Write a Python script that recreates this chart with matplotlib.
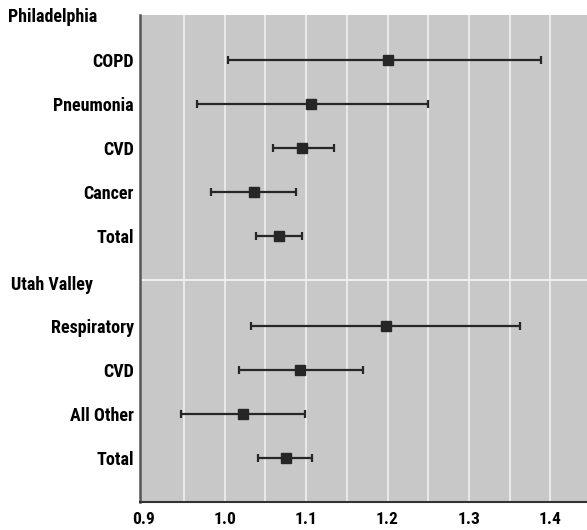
import numpy as np
import matplotlib.pyplot as plt

# Relative risk estimates with 95% confidence limits
phila_labels = ["COPD", "Pneumonia", "CVD", "Cancer", "Total"]
phila_rr = [1.20, 1.106, 1.095, 1.036, 1.067]
phila_lo = [1.004, 0.966, 1.059, 0.983, 1.039]
phila_hi = [1.389, 1.250, 1.134, 1.088, 1.095]

utah_labels = ["Respiratory", "CVD", "All Other", "Total"]
utah_rr = [1.198, 1.093, 1.023, 1.075]
utah_lo = [1.032, 1.018, 0.946, 1.041]
utah_hi = [1.363, 1.170, 1.099, 1.107]

x_ticks = [0.9, 1.0, 1.1, 1.2, 1.3, 1.4]

plt.rcParams['font.family'] = ['Roboto Condensed', 'DejaVu Sans']
plt.rcParams['font.stretch'] = 'condensed'
plt.rcParams['font.weight'] = 'bold'

fig = plt.figure(figsize=(5.87, 5.30), dpi=100)
ax = fig.add_axes([140 / 587, 1 - 502 / 530, 1 - 140 / 587, (502 - 15) / 530])
ax.set_facecolor("#c8c8c8")

phila_y = np.arange(1, len(phila_labels) + 1)
utah_y = np.arange(len(utah_labels)) + 7.05

for ys, rr, lo, hi in [(phila_y, phila_rr, phila_lo, phila_hi),
                       (utah_y, utah_rr, utah_lo, utah_hi)]:
    rr = np.array(rr)
    err = [rr - np.array(lo), np.array(hi) - rr]
    ax.errorbar(rr, ys, xerr=err, fmt="s", color="#262626", ms=7.5,
                elinewidth=1.6, capsize=3, capthick=1.6, zorder=3)

# vertical white grid every 0.05 and the divider between the two cities
for gx in np.arange(0.95, 1.45, 0.05):
    ax.axvline(gx, color="#f4f4f4", lw=1.1, zorder=1)
ax.axhline(6.0, color="#f4f4f4", lw=1.3, zorder=1)

ax.set_xlim(0.896, 1.445)
ax.set_ylim(11.05, -0.02)

ax.set_xticks(x_ticks)
ax.set_xticklabels([f"{t:.1f}" for t in x_ticks], fontsize=12.5)
ax.set_yticks(list(phila_y) + list(utah_y))
ax.set_yticklabels(phila_labels + utah_labels, fontsize=13)
ax.tick_params(length=0, pad=4.5)
ax.tick_params(axis="x", pad=7.5)

ax.text(-132 / 447, 0.02, "Philadelphia", transform=ax.get_yaxis_transform(),
        fontsize=13, va="center", ha="left")
ax.text(-129 / 447, 6.12, "Utah Valley", transform=ax.get_yaxis_transform(),
        fontsize=13, va="center", ha="left")

for s in ["top", "right"]:
    ax.spines[s].set_visible(False)
ax.spines["left"].set_color("#555555")
ax.spines["left"].set_linewidth(1.8)
ax.spines["bottom"].set_color("#333333")
ax.spines["bottom"].set_linewidth(1.5)

fig.savefig("out.png", dpi=100)
